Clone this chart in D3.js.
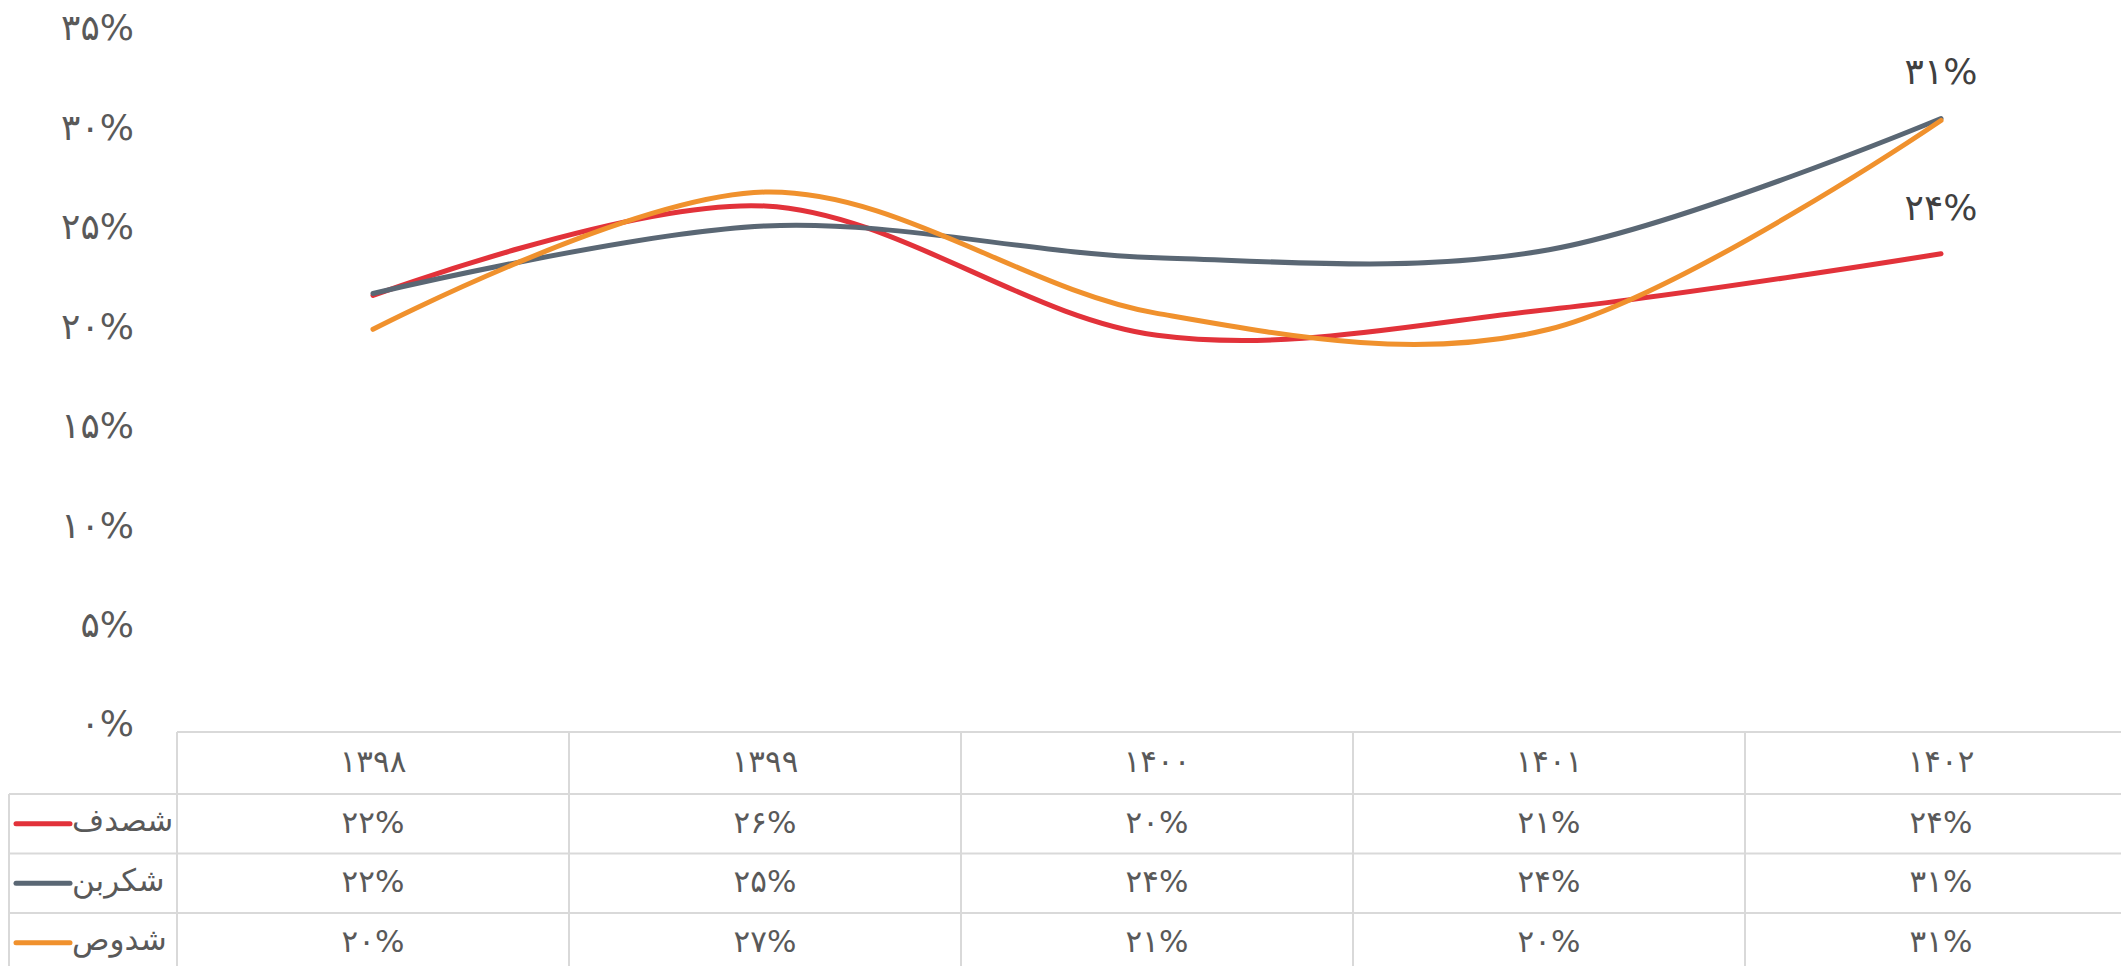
<!DOCTYPE html>
<html>
<head>
<meta charset="utf-8">
<script src="https://cdn.jsdelivr.net/npm/d3@7"></script>
<style>
  body { margin: 0; background: #fff; }
  text { font-family: "DejaVu Sans", sans-serif; }
</style>
</head>
<body>
<div id="chart-content"></div>
<script>
// data (percent)
var categories = ['1398', '1399', '1400', '1401', '1402'];
var series_names = ['شصدف', 'شکربن', 'شدوص'];
var series_colors = ['#e2323a', '#5a6774', '#f0912d'];
var shasdaf_values = [21.7, 26.2, 19.7, 21.0, 23.8];
var shekarbon_values = [21.8, 25.2, 23.6, 24.0, 30.6];
var shodus_values = [20.0, 26.9, 20.8, 20.0, 30.5];
var y_ticks = [0, 5, 10, 15, 20, 25, 30, 35];

var all_values = [shasdaf_values, shekarbon_values, shodus_values];

var chart_width = 2121;
var chart_height = 966;

var table_left = 177;
var table_top = 732;
var header_height = 62;
var row_height = 59.5;
var legend_left = 9;
var grid_color = '#d9d9d9';

var fa_digits = '۰۱۲۳۴۵۶۷۸۹';
function toFa(s) {
    return String(s).replace(/[0-9]/g, function(d) { return fa_digits[+d]; });
}

var svg = d3.select('#chart-content').append('svg')
    .attr('width', chart_width)
    .attr('height', chart_height);

// columns of the data table line up with the categories
var x = d3.scaleBand()
    .domain(categories)
    .range([table_left, table_left + 5 * 392]);

function xc(c) { return x(c) + x.bandwidth() / 2; }

var y = d3.scaleLinear()
    .domain([0, 35])
    .range([727, 31]);

// y axis labels, no line and no ticks
var yAxis = d3.axisLeft(y)
    .tickValues(y_ticks)
    .tickSize(0)
    .tickPadding(0)
    .tickFormat(function(d) { return toFa(d) + '%'; });

var gy = svg.append('g')
    .attr('transform', 'translate(134,0)')
    .call(yAxis);
gy.select('.domain').remove();
gy.selectAll('text')
    .attr('dy', '0.36em')
    .attr('y', -4)
    .style('font-size', '36px')
    .style('font-family', '"DejaVu Sans", sans-serif')
    .style('fill', '#595959');

// smoothed lines
var line = d3.line()
    .x(function(d, i) { return xc(categories[i]); })
    .y(function(d) { return y(d); })
    .curve(d3.curveCardinal.tension(0));

svg.append('g')
    .attr('class', 'lines')
    .selectAll('path')
    .data(all_values)
    .enter().append('path')
    .attr('d', line)
    .style('fill', 'none')
    .style('stroke', function(d, i) { return series_colors[i]; })
    .style('stroke-width', 5)
    .style('stroke-linecap', 'round');

// labels at the last point for shekarbon and shasdaf
var last = categories[categories.length - 1];
[1, 0].forEach(function(s) {
    var v = all_values[s][all_values[s].length - 1];
    svg.append('text')
        .attr('x', xc(last))
        .attr('y', y(v) - 47)
        .attr('text-anchor', 'middle')
        .attr('dy', '0.36em')
        .style('font-size', '36px')
        .style('fill', '#404040')
        .text(toFa(Math.round(v)) + '%');
});

// data table
var table = svg.append('g').attr('class', 'data-table');
var n_rows = series_names.length;
var table_bottom = table_top + header_height + n_rows * row_height + 20;

// horizontal lines
table.append('line')
    .attr('x1', table_left).attr('x2', chart_width)
    .attr('y1', table_top).attr('y2', table_top);
for (var r = 0; r <= n_rows; r++) {
    var ly = table_top + header_height + r * row_height;
    table.append('line')
        .attr('x1', legend_left).attr('x2', chart_width)
        .attr('y1', ly).attr('y2', ly);
}
// vertical lines
table.append('line')
    .attr('x1', legend_left).attr('x2', legend_left)
    .attr('y1', table_top + header_height).attr('y2', table_bottom);
categories.forEach(function(c) {
    table.append('line')
        .attr('x1', x(c)).attr('x2', x(c))
        .attr('y1', table_top).attr('y2', table_bottom);
});
table.selectAll('line')
    .style('stroke', grid_color)
    .style('stroke-width', 2);

// header: years
table.selectAll('.year')
    .data(categories)
    .enter().append('text')
    .attr('class', 'year')
    .attr('x', function(d) { return xc(d); })
    .attr('y', table_top + header_height / 2 - 2)
    .attr('dy', '0.36em')
    .attr('text-anchor', 'middle')
    .style('font-size', '31px')
    .style('fill', '#595959')
    .text(function(d) { return toFa(d); });

// rows
all_values.forEach(function(vals, s) {
    var cy = table_top + header_height + s * row_height + row_height / 2;

    table.selectAll('.val-' + s)
        .data(vals)
        .enter().append('text')
        .attr('class', 'val-' + s)
        .attr('x', function(d, i) { return xc(categories[i]); })
        .attr('y', cy - 2)
        .attr('dy', '0.36em')
        .attr('text-anchor', 'middle')
        .style('font-size', '31px')
        .style('fill', '#595959')
        .text(function(d) { return toFa(Math.round(d)) + '%'; });

    // legend key
    table.append('line')
        .attr('x1', 16).attr('x2', 70)
        .attr('y1', cy).attr('y2', cy)
        .style('stroke', series_colors[s])
        .style('stroke-width', 5)
        .style('stroke-linecap', 'round');
    table.append('text')
        .attr('x', 72)
        .attr('y', cy - 2)
        .attr('dy', '0.3em')
        .attr('text-anchor', 'start')
        .style('font-size', '31px')
        .style('fill', '#595959')
        .text(series_names[s]);
});
</script>
</body>
</html>
